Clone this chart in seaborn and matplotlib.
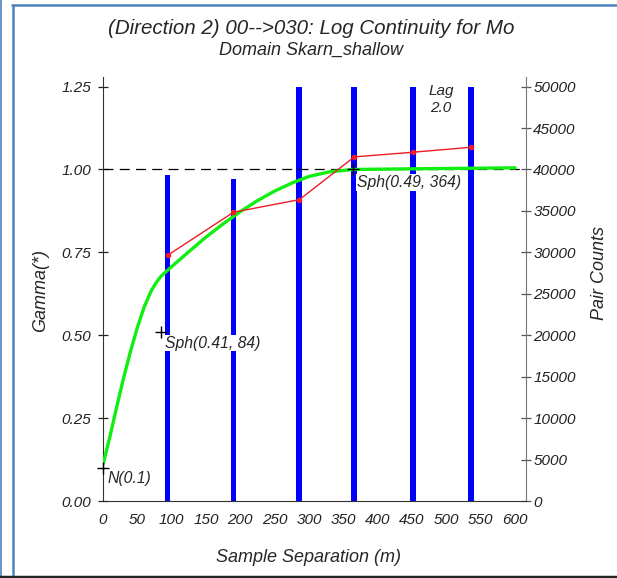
import numpy as np
import pandas as pd
import matplotlib
matplotlib.use("Agg")
import matplotlib.pyplot as plt
import seaborn as sns
from matplotlib.lines import Line2D

lag_dist = [94, 190, 286, 366, 451, 536]
gamma_exp = [0.741, 0.871, 0.909, 1.038, 1.052, 1.067]
# pair counts; the last four bars run past the top of the axis (clipped at 50000)
pair_counts = [39300, 38800, 50000, 50000, 50000, 50000]

# fitted model curve (green)
model_h = [0, 10, 20, 30, 40, 50, 60, 70, 77, 84, 100, 125, 150, 175, 200,
           225, 250, 275, 300, 330, 364, 450, 600]
model_gamma = [0.11, 0.193, 0.284, 0.371, 0.451, 0.523, 0.585, 0.633, 0.657,
               0.677, 0.707, 0.752, 0.796, 0.836, 0.873, 0.906, 0.935, 0.959,
               0.979, 0.993, 1.0, 1.002, 1.005]

# model structures
struct_h = [0, 84, 364]
struct_gamma = [0.1, 0.51, 1.0]
struct_labels = ["N(0.1)", "Sph(0.41, 84)", "Sph(0.49, 364)"]

x_ticks = list(range(0, 601, 50))
y_ticks = [0.0, 0.25, 0.5, 0.75, 1.0, 1.25]
count_ticks = list(range(0, 50001, 5000))

sns.set_style("white")
plt.rcParams["font.family"] = ["Liberation Sans", "DejaVu Sans"]
plt.rcParams["font.style"] = "italic"

fig = plt.figure(figsize=(6.17, 5.78), dpi=100)
ax = fig.add_axes([0.1669, 0.1332, 0.6851, 0.7336])
ax2 = ax.twinx()
ax.set_zorder(ax2.get_zorder() + 1)
ax.patch.set_visible(False)

# pair count bars on the right axis
bars = pd.DataFrame({"lag": lag_dist, "pairs": pair_counts})
min_gap = np.min(np.diff(lag_dist))
sns.barplot(data=bars, x="lag", y="pairs", ax=ax2, native_scale=True,
            color="#0000ff", saturation=1, width=8.5 / min_gap, linewidth=0)

# sill line
ax.axhline(1.0, color="black", lw=0.9, ls=(0, (8, 5)), zorder=1)

# model and experimental curves
sns.lineplot(x=model_h, y=model_gamma, ax=ax, color="#11ee11", lw=2.4,
             sort=False, zorder=3)
sns.lineplot(x=lag_dist, y=gamma_exp, ax=ax, color="#ee1c24", lw=1.0,
             marker="o", markersize=4, markeredgewidth=0, zorder=4)

# structure markers and labels
ax.plot(struct_h, struct_gamma, ls="none", marker="+", color="black",
        markersize=9, mew=1.0, zorder=5, clip_on=False)
offsets = [(3, -8), (3, -8), (3, -9.5)]
for h, g, lab, off in zip(struct_h, struct_gamma, struct_labels, offsets):
    ax.annotate(lab, (h, g), xytext=off, textcoords="offset points",
                ha="left", va="center", fontsize=11.3, zorder=6,
                bbox=dict(boxstyle="square,pad=0.05", fc="white", ec="none"))

ax.text(492, 1.21, "Lag\n2.0", ha="center", va="center", fontsize=11,
        linespacing=1.25)

# axes limits and ticks
ax.set_xlim(0, 615.6)
ax.set_ylim(0, 1.279)
ax2.set_ylim(0, 1.279 * 40000)
ax.set_xticks(x_ticks)
ax.set_yticks(y_ticks)
ax.set_yticklabels([f"{v:.2f}" for v in y_ticks])
ax2.set_yticks(count_ticks)
ax2.set_yticklabels([str(c) for c in count_ticks])

for a in (ax, ax2):
    a.tick_params(direction="inout", length=7, width=0.9, labelsize=11,
                  colors="#222222", pad=2)
    a.spines["top"].set_visible(False)
ax.tick_params(axis="x", pad=5)
ax.tick_params(axis="y", pad=5)
ax2.tick_params(axis="y", colors="#555555", labelcolor="#222222")
ax.spines["left"].set_color("#333333")
ax.spines["bottom"].set_color("#333333")
ax.spines["right"].set_visible(False)
ax2.spines["left"].set_visible(False)
ax2.spines["bottom"].set_visible(False)
ax2.spines["right"].set_color("#777777")

ax.set_xlabel("")
ax.set_ylabel("")
ax2.set_xlabel("")
ax2.set_ylabel("")

fig.text(311 / 617, 1 - 29 / 578, "(Direction 2) 00-->030: Log Continuity for Mo",
         ha="center", va="center", fontsize=14.8)
fig.text(311 / 617, 1 - 50 / 578, "Domain Skarn_shallow",
         ha="center", va="center", fontsize=13)
fig.text(41 / 617, 1 - 290 / 578, "Gamma(*)", rotation=90,
         ha="center", va="center", fontsize=13)
fig.text(600 / 617, 1 - 273 / 578, "Pair Counts", rotation=90,
         ha="center", va="center", fontsize=13)
fig.text(308.5 / 617, 1 - 558 / 578, "Sample Separation (m)",
         ha="center", va="center", fontsize=13)

# frame lines around the panel
blue = "#4f81bd"
W, H = 617, 578
fig.add_artist(Line2D([1 / W, 1 / W], [0, 1], color=blue, lw=1.2))
fig.add_artist(Line2D([13 / W, 13 / W], [3 / H, 1 - 5 / H], color=blue, lw=1.8))
fig.add_artist(Line2D([12 / W, 1], [1 - 5 / H, 1 - 5 / H], color=blue, lw=1.8))
fig.add_artist(Line2D([0, 1], [1.5 / H, 1.5 / H], color="#222222", lw=2.5))

fig.savefig("out.png", dpi=100)
